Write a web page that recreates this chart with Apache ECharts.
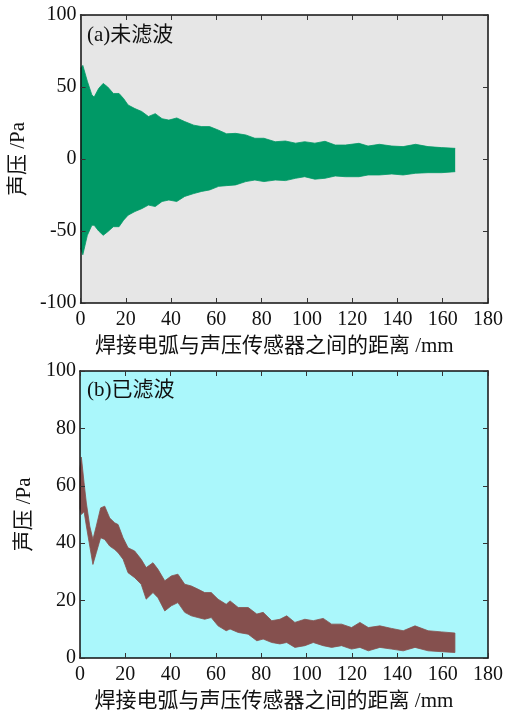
<!DOCTYPE html>
<html>
<head>
<meta charset="utf-8">
<script src="https://cdn.jsdelivr.net/npm/echarts@6/dist/echarts.min.js"></script>
<style>
  html, body { margin: 0; padding: 0; background: #fff; }
  #chart { width: 510px; height: 713px; }
</style>
</head>
<body>
<div id="chart"></div>
<script>
// Distance ticks (mm)
const xTicks = [0, 20, 40, 60, 80, 100, 120, 140, 160, 180];

// (a) unfiltered: envelope of the raw signal
const topX = [0, 1, 3, 5, 6, 8, 10, 12, 14.5, 17, 19, 21, 24, 27, 30, 33, 36, 39, 42.5, 46,
    50, 53.5, 57, 61, 64.5, 68.5, 73, 77, 81, 86, 90.5, 95, 99, 103.5, 108, 112.5, 117, 123, 127, 132,
    137.5, 142.5, 148, 153.5, 159.5, 165.5];
const topUpper = [63, 65, 54, 44.5, 43, 49, 52.5, 50, 45.5, 45.5, 42, 37.5, 35, 33, 29.5, 31.5, 28, 27, 28.5, 26,
    23.5, 22.5, 22.5, 20, 17.5, 17.8, 16.7, 14.4, 14.4, 12, 12.5, 11, 12, 11, 12.3, 9.7, 9.7, 10.9, 9, 10.2,
    9, 8.6, 10.2, 8.6, 7.9, 7.4];
const topLower = [-62, -66.5, -53, -46, -46, -50, -53, -50.5, -47, -47, -42.5, -39, -36.5, -34.5, -32, -33, -29.5, -28.5, -29.5, -26,
    -24, -22.5, -21.5, -19, -18.5, -18, -15.7, -14.6, -15.7, -14.6, -15, -13.4, -12.3, -14, -13.4, -11.8, -12.3, -12.3, -11.1, -11.1,
    -10.4, -11.1, -9.9, -9.5, -9.5, -8.8];

// (b) filtered: band between lower and upper edge
const botX = [0, 0.6, 1.8, 2.8, 4.3, 5.7, 7.2, 9.1, 10.9, 13.1, 15.3, 16.8, 19, 21.2, 24.1, 27, 29.2, 32.2, 34.4, 37.4,
    40.3, 43.2, 46.2, 49.1, 52, 55, 57.9, 60.9, 64.5, 66.2, 69.8, 74.2, 78, 80.8, 84.6, 88.2, 91.2, 94.8, 99.2, 102.9,
    107.3, 111, 115.4, 119.8, 123.5, 127.2, 132.3, 137.5, 142.6, 147.8, 153.6, 159.5, 165.4];
const botUpper = [66, 70, 61, 54, 46, 41.3, 46, 52.3, 52.9, 48.8, 47.1, 46.5, 41.9, 38.4, 37.3, 34.4, 31.5, 33.2, 30.9, 26.9,
    28.6, 29.2, 25.7, 25.1, 24, 22.8, 22.8, 20.5, 18.7, 19.9, 17.6, 17.6, 15.3, 15.9, 13, 13.5, 14.7, 12.4, 13.5, 13,
    13.8, 11.8, 11.8, 10.6, 12.4, 10.6, 11.2, 10.3, 9.5, 11.2, 9.5, 9.1, 8.7];
const botLower = [52, 50, 51, 46, 39, 32.6, 36.7, 41.9, 41.3, 39, 37.8, 36.7, 34.4, 29.7, 28, 25.7, 20.5, 22.8, 21, 16.4,
    18.2, 19.3, 15.9, 14.7, 14.1, 13.5, 14.1, 11.2, 9.5, 10.1, 8.9, 8.3, 6, 6.6, 5.4, 4.9, 5.4, 3.7, 4.3, 5.4,
    4.3, 3.7, 4.3, 3.1, 3.7, 2.5, 3.7, 3.1, 2.5, 3.7, 2.5, 2.2, 1.9];

const serif = '"Liberation Serif", "Noto Sans CJK SC", serif';
const green = '#009966';
const brown = '#85504e';

function pairs(xs, ys) {
    return xs.map((x, i) => [x, ys[i]]);
}

// axis pieces shared by all four sides of each frame
const line = { show: true, onZero: false, lineStyle: { color: '#111', width: 1.5 } };
const tick = { show: true, inside: true, length: 5, lineStyle: { color: '#333', width: 1 } };

function xAxes(grid) {
    const base = { type: 'value', gridIndex: grid, min: 0, max: 180, interval: 20, z: 5,
        axisLine: line, axisTick: tick, splitLine: { show: false } };
    return [
        Object.assign({}, base, {
            position: 'bottom',
            name: '焊接电弧与声压传感器之间的距离 /mm',
            nameLocation: 'middle',
            nameGap: 33,
            nameTextStyle: { fontFamily: serif, fontSize: 21, color: '#111', padding: [0, 20, 0, 0] },
            axisLabel: { fontFamily: serif, fontSize: 20, color: '#111', margin: 7 }
        }),
        Object.assign({}, base, { position: 'top', axisLabel: { show: false } })
    ];
}

function yAxes(grid, min, max, step, gap) {
    const base = { type: 'value', gridIndex: grid, min: min, max: max, interval: step, z: 5,
        axisLine: line, axisTick: tick, splitLine: { show: false } };
    return [
        Object.assign({}, base, {
            position: 'left',
            name: '声压 /Pa',
            nameLocation: 'middle',
            nameGap: gap,
            nameTextStyle: { fontFamily: serif, fontSize: 21, color: '#111', padding: [12, 0, 0, 0] },
            axisLabel: { fontFamily: serif, fontSize: 20, color: '#111', margin: 4 }
        }),
        Object.assign({}, base, { position: 'right', axisLabel: { show: false } })
    ];
}

var chart = echarts.init(document.getElementById('chart'), null, { renderer: 'canvas' });
var option = {
    animation: false,
    backgroundColor: '#fff',
    title: [
        { text: '(a)未滤波', left: 82, top: 20, textStyle: { fontFamily: serif, fontSize: 21, fontWeight: 'normal', color: '#111' } },
        { text: '(b)已滤波', left: 82, top: 375, textStyle: { fontFamily: serif, fontSize: 21, fontWeight: 'normal', color: '#111' } }
    ],
    grid: [
        { left: 80, top: 15, width: 408, height: 288, show: true, backgroundColor: '#e6e6e6', borderWidth: 0 },
        { left: 80, top: 371, width: 408, height: 288, show: true, backgroundColor: '#aaf7fb', borderWidth: 0 }
    ],
    xAxis: xAxes(0).concat(xAxes(1)),
    yAxis: yAxes(0, -100, 100, 50, 48).concat(yAxes(1, 0, 100, 20, 42)),
    series: [
        {
            name: 'upper', type: 'line', xAxisIndex: 0, yAxisIndex: 0,
            data: pairs(topX, topUpper), showSymbol: false,
            lineStyle: { color: green, width: 0.8 },
            areaStyle: { color: green, opacity: 1 }
        },
        {
            name: 'lower', type: 'line', xAxisIndex: 0, yAxisIndex: 0,
            data: pairs(topX, topLower), showSymbol: false,
            lineStyle: { color: green, width: 0.8 },
            areaStyle: { color: green, opacity: 1 }
        },
        {
            // the filtered band as one polygon: upper edge forward, lower edge back
            name: 'filtered', type: 'custom', coordinateSystem: 'cartesian2d',
            xAxisIndex: 2, yAxisIndex: 2,
            encode: { x: 0, y: [1, 2] },
            data: botX.map((x, i) => [x, botLower[i], botUpper[i]]),
            renderItem: function(params, api) {
                if (params.dataIndex !== 0) return null;
                const top = botX.map((x, i) => api.coord([x, botUpper[i]]));
                const bottom = botX.map((x, i) => api.coord([x, botLower[i]])).reverse();
                return {
                    type: 'polygon',
                    shape: { points: top.concat(bottom) },
                    style: { fill: brown, stroke: brown, lineWidth: 0.8 }
                };
            }
        }
    ]
};
option && chart.setOption(option);
</script>
</body>
</html>
